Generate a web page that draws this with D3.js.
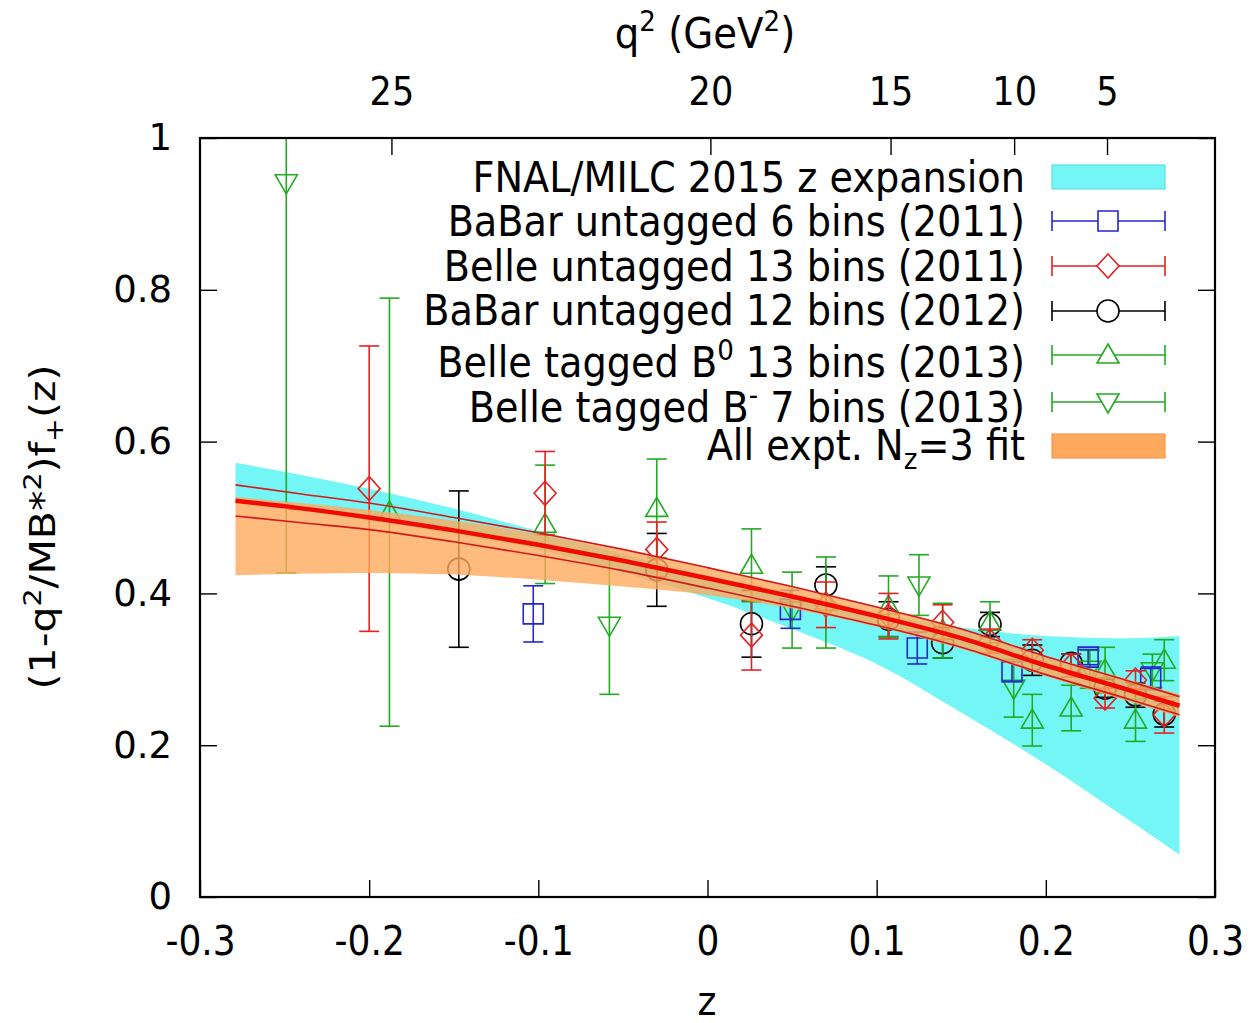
<!DOCTYPE html>
<html>
<head>
<meta charset="utf-8">
<script src="https://cdn.jsdelivr.net/npm/d3@7"></script>
<style>
  body { margin: 0; background: #fff; }
  text { fill: #000; }
</style>
</head>
<body>
<svg id="chart" width="1253" height="1023"></svg>
<script>
// ---- data ----
var xTicks = [-0.3, -0.2, -0.1, 0, 0.1, 0.2, 0.3];
var yTicks = [0, 0.2, 0.4, 0.6, 0.8, 1];
var q2Ticks = [25, 20, 15, 10, 5];

// BaBar untagged 6 bins (2011)
var babar6Z   = [-0.103, 0.049, 0.124, 0.180, 0.225, 0.262];
var babar6V   = [0.373, 0.379, 0.328, 0.297, 0.316, 0.288];
var babar6Err = [0.037, 0.025, 0.021, 0.013, 0.010, 0.015];

// Belle untagged 13 bins (2011)
var belle13Z   = [-0.200, -0.096, -0.030, 0.026, 0.070, 0.107, 0.139, 0.167, 0.192, 0.215, 0.235, 0.253, 0.270];
var belle13V   = [0.538, 0.532, 0.458, 0.345, 0.385, 0.370, 0.362, 0.337, 0.325, 0.305, 0.262, 0.286, 0.240];
var belle13Err = [0.188, 0.055, 0.036, 0.046, 0.030, 0.030, 0.023, 0.016, 0.014, 0.015, 0.013, 0.012, 0.024];

// BaBar untagged 12 bins (2012)
var babar12Z   = [-0.147, -0.030, 0.026, 0.070, 0.107, 0.139, 0.167, 0.192, 0.215, 0.235, 0.253, 0.270];
var babar12V   = [0.432, 0.431, 0.360, 0.411, 0.366, 0.335, 0.359, 0.312, 0.308, 0.275, 0.266, 0.241];
var babar12Err = [0.103, 0.048, 0.044, 0.024, 0.023, 0.020, 0.016, 0.020, 0.012, 0.012, 0.016, 0.017];

// Belle tagged B0 13 bins (2013)
var b0Z   = [-0.188, -0.096, -0.030, 0.026, 0.070, 0.107, 0.139, 0.167, 0.192, 0.215, 0.235, 0.253, 0.270];
var b0V   = [0.507, 0.491, 0.512, 0.437, 0.388, 0.383, 0.351, 0.362, 0.233, 0.249, 0.299, 0.233, 0.312];
var b0Err = [0.282, 0.078, 0.065, 0.048, 0.060, 0.040, 0.036, 0.027, 0.034, 0.030, 0.030, 0.028, 0.027];

// Belle tagged B- 7 bins (2013)
var bmZ   = [-0.249, -0.058, 0.050, 0.125, 0.181, 0.226, 0.263];
var bmV   = [0.941, 0.358, 0.378, 0.411, 0.275, 0.300, 0.298];
var bmErr = [0.514, 0.091, 0.050, 0.040, 0.038, 0.025, 0.022];

// bands and fit curves, sampled along z
var bandZ     = [-0.279, -0.24, -0.2, -0.15, -0.1, -0.05, 0, 0.05, 0.1, 0.15, 0.2, 0.25, 0.279];
var latticeHi = [0.572, 0.556, 0.538, 0.512, 0.482, 0.452, 0.424, 0.398, 0.374, 0.355, 0.344, 0.341, 0.344];
var latticeLo = [0.520, 0.510, 0.497, 0.478, 0.458, 0.428, 0.394, 0.353, 0.307, 0.243, 0.175, 0.100, 0.056];
var exptHi    = [0.527, 0.519, 0.510, 0.496, 0.478, 0.457, 0.434, 0.409, 0.383, 0.354, 0.318, 0.286, 0.267];
var exptLo    = [0.424, 0.426, 0.427, 0.425, 0.418, 0.409, 0.398, 0.380, 0.356, 0.327, 0.291, 0.257, 0.237];
var fitMid    = [0.522, 0.512, 0.500, 0.483, 0.464, 0.443, 0.420, 0.396, 0.370, 0.341, 0.305, 0.272, 0.252];
var fitUp     = [0.543, 0.531, 0.519, 0.500, 0.480, 0.458, 0.434, 0.409, 0.382, 0.353, 0.317, 0.284, 0.264];
var fitDn     = [0.502, 0.493, 0.484, 0.468, 0.450, 0.430, 0.407, 0.383, 0.358, 0.329, 0.293, 0.260, 0.240];

// masses used for the q^2 <-> z axis (GeV)
var mB = 5.2796, mPi = 0.13957;

var W = 1253, H = 1023;
var pL = 200, pR = 1215, pT = 138, pB = 897;   // plot frame
var cond = "'DejaVu Sans Condensed', 'DejaVu Sans', sans-serif";
var wide = "'DejaVu Sans', sans-serif";

var cyan = "#75f6f6", orange = "#ffa95c";
var cBlue = "#2626cc", cRed = "#e32222", cGreen = "#22aa22", cBlack = "#000";

var svg = d3.select("#chart");
svg.append("rect").attr("width", W).attr("height", H).attr("fill", "#fff");

var x = d3.scaleLinear().domain([-0.3, 0.3]).range([pL, pR]);
var y = d3.scaleLinear().domain([0, 1]).range([pB, pT]);

function zOfQ2(q2)
{
    var tp = (mB + mPi) * (mB + mPi);
    var tm = (mB - mPi) * (mB - mPi);
    var t0 = tp * (1 - Math.sqrt(1 - tm / tp));
    var a = Math.sqrt(tp - q2), b = Math.sqrt(tp - t0);
    return (a - b) / (a + b);
}

svg.append("clipPath").attr("id", "plotclip")
    .append("rect").attr("x", pL).attr("y", pT)
    .attr("width", pR - pL).attr("height", pB - pT);

var plot = svg.append("g").attr("clip-path", "url(#plotclip)");

function rows(zs, a, b)
{
    return zs.map(function(z, i) { return {z: z, a: a[i], b: b ? b[i] : 0}; });
}

// lattice band
var area = d3.area().curve(d3.curveMonotoneX)
    .x(function(d) { return x(d.z); })
    .y0(function(d) { return y(d.b); })
    .y1(function(d) { return y(d.a); });
plot.append("path").datum(rows(bandZ, latticeHi, latticeLo))
    .attr("d", area).attr("fill", cyan);

// markers
function markerPath(kind, cx, cy)
{
    var p = d3.path();
    if (kind == "square") {
	p.rect(cx - 10, cy - 10, 20, 20);
    } else if (kind == "diamond") {
	p.moveTo(cx, cy - 12); p.lineTo(cx + 11, cy); p.lineTo(cx, cy + 12); p.lineTo(cx - 11, cy); p.closePath();
    } else if (kind == "circle") {
	p.moveTo(cx + 11, cy); p.arc(cx, cy, 11, 0, 2 * Math.PI);
    } else if (kind == "up") {
	p.moveTo(cx, cy - 11); p.lineTo(cx + 11, cy + 8); p.lineTo(cx - 11, cy + 8); p.closePath();
    } else {
	p.moveTo(cx, cy + 11); p.lineTo(cx + 11, cy - 8); p.lineTo(cx - 11, cy - 8); p.closePath();
    }
    return p.toString();
}

function drawSet(zs, vs, es, color, kind)
{
    var g = plot.append("g").attr("stroke", color).attr("fill", "none").attr("stroke-width", 1.6);
    var data = zs.map(function(z, i) { return {z: z, v: vs[i], e: es[i]}; });
    data.forEach(function(d) {
	var cx = x(d.z), y1 = y(d.v + d.e), y2 = y(d.v - d.e);
	g.append("line").attr("x1", cx).attr("x2", cx).attr("y1", y1).attr("y2", y2);
	g.append("line").attr("x1", cx - 10).attr("x2", cx + 10).attr("y1", y1).attr("y2", y1);
	g.append("line").attr("x1", cx - 10).attr("x2", cx + 10).attr("y1", y2).attr("y2", y2);
	g.append("path").attr("d", markerPath(kind, cx, y(d.v)));
    });
}

drawSet(babar12Z, babar12V, babar12Err, cBlack, "circle");
drawSet(b0Z, b0V, b0Err, cGreen, "up");
drawSet(bmZ, bmV, bmErr, cGreen, "down");
drawSet(babar6Z, babar6V, babar6Err, cBlue, "square");
drawSet(belle13Z, belle13V, belle13Err, cRed, "diamond");

// experiment fit band (translucent, over the points)
plot.append("path").datum(rows(bandZ, exptHi, exptLo))
    .attr("d", area).attr("fill", orange).attr("fill-opacity", 0.8);

// fit lines
var line = d3.line().curve(d3.curveMonotoneX)
    .x(function(d) { return x(d.z); })
    .y(function(d) { return y(d.a); });
plot.append("path").datum(rows(bandZ, fitUp)).attr("d", line)
    .attr("fill", "none").attr("stroke", "#d41a1a").attr("stroke-width", 1.6);
plot.append("path").datum(rows(bandZ, fitDn)).attr("d", line)
    .attr("fill", "none").attr("stroke", "#d41a1a").attr("stroke-width", 1.6);
plot.append("path").datum(rows(bandZ, fitMid)).attr("d", line)
    .attr("fill", "none").attr("stroke", "#f00a00").attr("stroke-width", 4.5);

// axes (ticks point inwards)
function plain(d) { return String(+(+d).toFixed(1)); }

var axB = svg.append("g").attr("transform", "translate(0," + pB + ")")
    .call(d3.axisBottom(x).tickValues(xTicks).tickSizeInner(-17).tickSizeOuter(0)
	  .tickPadding(30).tickFormat(plain));
axB.selectAll("text").attr("font-family", cond).attr("font-size", 40).attr("dy", "0.71em");

var axL = svg.append("g").attr("transform", "translate(" + pL + ",0)")
    .call(d3.axisLeft(y).tickValues(yTicks).tickSizeInner(-17).tickSizeOuter(0)
	  .tickPadding(28).tickFormat(plain));
axL.selectAll("text").attr("font-family", wide).attr("font-size", 37);

svg.append("g").attr("transform", "translate(" + pR + ",0)")
    .call(d3.axisRight(y).tickValues(yTicks).tickSizeInner(-17).tickSizeOuter(0).tickFormat(""));

var axT = svg.append("g").attr("transform", "translate(0," + pT + ")")
    .call(d3.axisTop(x).tickValues(q2Ticks.map(zOfQ2)).tickSizeInner(-17).tickSizeOuter(0)
	  .tickPadding(33).tickFormat(function(d, i) { return q2Ticks[i]; }));
axT.selectAll("text").attr("font-family", cond).attr("font-size", 39);

svg.selectAll(".domain").remove();
svg.selectAll(".tick line").attr("stroke", "#000").attr("stroke-width", 1.4);

svg.append("rect").attr("x", pL).attr("y", pT)
    .attr("width", pR - pL).attr("height", pB - pT)
    .attr("fill", "none").attr("stroke", "#000").attr("stroke-width", 2.2);

// axis titles
svg.append("text").attr("x", 707).attr("y", 1015)
    .attr("text-anchor", "middle").attr("font-family", cond).attr("font-size", 40).text("z");

var tt = svg.append("text").attr("x", 705).attr("y", 48)
    .attr("text-anchor", "middle").attr("font-family", cond).attr("font-size", 43);
tt.append("tspan").text("q");
tt.append("tspan").attr("dy", -17).attr("font-size", 29).text("2");
tt.append("tspan").attr("dy", 17).text(" (GeV");
tt.append("tspan").attr("dy", -17).attr("font-size", 29).text("2");
tt.append("tspan").attr("dy", 17).text(")");

// y title, stretched along its length to the span it has in the picture
var ylg = svg.append("g");
var yl = ylg.append("text").attr("text-anchor", "middle").attr("font-family", cond).attr("font-size", 36);
yl.append("tspan").text("(1-q");
yl.append("tspan").attr("dy", -14).attr("font-size", 25).text("2");
yl.append("tspan").attr("dy", 14).text("/MB*");
yl.append("tspan").attr("dy", -14).attr("font-size", 25).text("2");
yl.append("tspan").attr("dy", 14).text(")f");
yl.append("tspan").attr("dy", 8).attr("font-size", 25).text("+");
yl.append("tspan").attr("dy", -8).text("(z)");
var ylw = yl.node().getComputedTextLength();
ylg.attr("transform", "translate(55,527) rotate(-90) scale(" + (325 / ylw) + ",1)");

// legend
var legX = 1025, sx0 = 1052, sx1 = 1165, smid = 1108;
var leg = svg.append("g").attr("font-family", cond).attr("font-size", 42.5);

function legText(yc, parts)
{
    var t = leg.append("text").attr("x", legX).attr("y", yc + 15).attr("text-anchor", "end");
    parts.forEach(function(p) {
	var s = t.append("tspan").text(p[0]);
	if (p[1] == "sup") s.attr("dy", -17).attr("font-size", 29);
	if (p[1] == "back") s.attr("dy", 17);
	if (p[1] == "sub") s.attr("dy", 9).attr("font-size", 29);
	if (p[1] == "unsub") s.attr("dy", -9);
    });
}
function legBox(yc, color, edge)
{
    leg.append("rect").attr("x", sx0).attr("y", yc - 12).attr("width", sx1 - sx0).attr("height", 24)
	.attr("fill", color).attr("stroke", edge).attr("stroke-width", 1.2);
}
function legErr(yc, color, kind)
{
    var g = leg.append("g").attr("stroke", color).attr("fill", "none").attr("stroke-width", 1.6);
    g.append("line").attr("x1", sx0).attr("x2", sx1).attr("y1", yc).attr("y2", yc);
    g.append("line").attr("x1", sx0).attr("x2", sx0).attr("y1", yc - 10).attr("y2", yc + 10);
    g.append("line").attr("x1", sx1).attr("x2", sx1).attr("y1", yc - 10).attr("y2", yc + 10);
    g.append("path").attr("d", markerPath(kind, smid, yc)).attr("fill", "#fff");
}

legText(177, [["FNAL/MILC 2015 z expansion"]]);
legBox(177, cyan, "#5ee0e0");
legText(221, [["BaBar untagged 6 bins (2011)"]]);
legErr(221, cBlue, "square");
legText(266, [["Belle untagged 13 bins (2011)"]]);
legErr(266, cRed, "diamond");
legText(310, [["BaBar untagged 12 bins (2012)"]]);
legErr(311, cBlack, "circle");
legText(362, [["Belle tagged B"], ["0", "sup"], [" 13 bins (2013)", "back"]]);
legErr(355, cGreen, "up");
legText(407, [["Belle tagged B"], ["-", "sup"], [" 7 bins (2013)", "back"]]);
legErr(402, cGreen, "down");
legText(445, [["All expt. N"], ["z", "sub"], ["=3 fit", "unsub"]]);
legBox(446, orange, "#f09a50");
</script>
</body>
</html>
